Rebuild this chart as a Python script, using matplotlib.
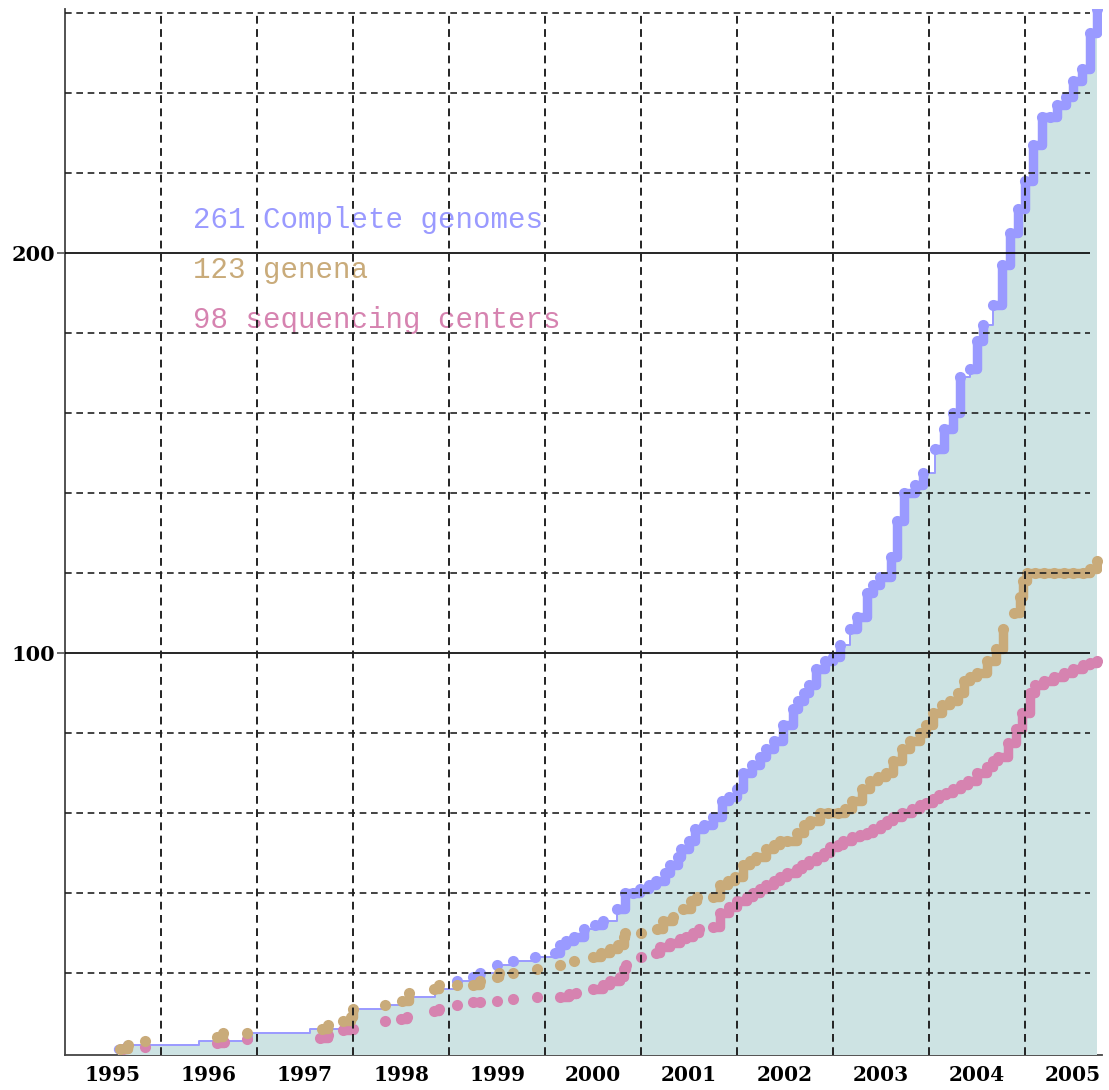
import numpy as np
import matplotlib.pyplot as plt

# Cumulative counts (x = fractional year)
genome_year = [1995.55, 1995.65, 1996.4, 1996.95, 1997.55, 1997.97, 1998.3, 1998.55, 1998.85,
               1999.08, 1999.25, 1999.32, 1999.5, 1999.67, 1999.9, 2000.1, 2000.16, 2000.22,
               2000.3, 2000.4, 2000.52, 2000.6, 2000.75, 2000.83, 2000.92, 2000.99, 2001.08,
               2001.16, 2001.25, 2001.3, 2001.38, 2001.42, 2001.5, 2001.56, 2001.66, 2001.75,
               2001.84, 2001.92, 2002.0, 2002.06, 2002.15, 2002.24, 2002.3, 2002.38, 2002.48,
               2002.58, 2002.63, 2002.7, 2002.75, 2002.82, 2002.92, 2003.0, 2003.07, 2003.18,
               2003.25, 2003.35, 2003.42, 2003.49, 2003.6, 2003.67, 2003.74, 2003.85, 2003.94,
               2004.06, 2004.15, 2004.25, 2004.32, 2004.43, 2004.5, 2004.56, 2004.67, 2004.76,
               2004.84, 2004.92, 2005.0, 2005.08, 2005.18, 2005.26, 2005.33, 2005.42, 2005.5,
               2005.59, 2005.68, 2005.75]
genome_count = [1, 2, 3, 5, 6, 11, 12, 14, 16,
                18, 19, 20, 22, 23, 24, 25, 27, 28,
                29, 31, 32, 33, 36, 40, 40, 41, 42,
                43, 45, 47, 49, 51, 53, 56, 57, 59,
                63, 64, 66, 70, 72, 74, 76, 78, 82,
                86, 88, 90, 92, 96, 98, 99, 102, 106,
                109, 115, 117, 119, 124, 133, 140, 142, 145,
                151, 156, 160, 169, 171, 178, 182, 187, 197,
                205, 211, 218, 227, 234, 234, 237, 239, 243,
                246, 255, 261]

genus_year = [1995.57, 1995.66, 1995.83, 1996.58, 1996.65, 1996.9, 1997.68, 1997.74, 1997.9,
              1997.98, 1998.0, 1998.33, 1998.51, 1998.58, 1998.84, 1998.9, 1999.08, 1999.25,
              1999.32, 1999.5, 1999.52, 1999.67, 1999.92, 2000.16, 2000.3, 2000.5, 2000.58,
              2000.68, 2000.76, 2000.82, 2000.83, 2001.0, 2001.17, 2001.23, 2001.33, 2001.44,
              2001.52, 2001.58, 2001.75, 2001.82, 2001.9, 2001.98, 2002.06, 2002.13, 2002.2,
              2002.3, 2002.38, 2002.45, 2002.52, 2002.62, 2002.7, 2002.76, 2002.86, 2002.95,
              2003.05, 2003.12, 2003.2, 2003.3, 2003.38, 2003.47, 2003.55, 2003.62, 2003.72,
              2003.8, 2003.9, 2003.97, 2004.04, 2004.13, 2004.22, 2004.3, 2004.36, 2004.43,
              2004.5, 2004.6, 2004.7, 2004.77, 2004.88, 2004.95, 2004.98, 2005.02, 2005.1,
              2005.2, 2005.3, 2005.4, 2005.5, 2005.6, 2005.68, 2005.75]
genus_count = [1, 2, 3, 4, 5, 5, 6, 7, 8,
               9, 11, 12, 13, 15, 16, 17, 17, 17,
               18, 19, 20, 20, 21, 22, 23, 24, 25,
               26, 27, 29, 30, 30, 31, 33, 34, 36,
               38, 39, 39, 42, 43, 44, 47, 48, 49,
               51, 52, 53, 53, 55, 57, 58, 60, 60,
               60, 61, 63, 66, 68, 69, 70, 73, 76,
               78, 80, 82, 85, 87, 88, 90, 93, 94,
               95, 98, 101, 106, 110, 114, 118, 120, 120,
               120, 120, 120, 120, 120, 121, 123]

center_year = [1995.6, 1995.83, 1996.58, 1996.66, 1996.9, 1997.66, 1997.74, 1997.9, 1998.0,
               1998.33, 1998.5, 1998.56, 1998.84, 1998.9, 1999.08, 1999.25, 1999.32, 1999.5,
               1999.67, 1999.92, 2000.16, 2000.25, 2000.32, 2000.5, 2000.6, 2000.68, 2000.78,
               2000.82, 2000.84, 2001.0, 2001.15, 2001.2, 2001.3, 2001.4, 2001.47, 2001.54,
               2001.6, 2001.75, 2001.82, 2001.92, 2002.0, 2002.1, 2002.17, 2002.24, 2002.3,
               2002.38, 2002.45, 2002.52, 2002.62, 2002.68, 2002.75, 2002.83, 2002.9, 2002.97,
               2003.05, 2003.1, 2003.2, 2003.28, 2003.35, 2003.42, 2003.5, 2003.56, 2003.62,
               2003.72, 2003.82, 2003.9, 2003.97, 2004.04, 2004.1, 2004.18, 2004.25, 2004.33,
               2004.4, 2004.5, 2004.6, 2004.66, 2004.72, 2004.82, 2004.9, 2004.97, 2005.05,
               2005.1, 2005.2, 2005.3, 2005.4, 2005.5, 2005.6, 2005.68, 2005.75]
center_count = [1, 1.5, 2.5, 2.7, 3.5, 3.75, 4.5, 5.75, 6,
                8, 8.5, 9, 10.5, 11, 12, 12.75, 12.75, 13,
                13.5, 14, 14, 14.75, 15, 16, 17, 18, 19,
                21, 22, 24, 25, 26.5, 27.5, 28.5, 29, 30,
                31, 31.5, 35, 36.5, 38, 39, 40, 41, 42,
                43, 44, 45, 46, 47, 48, 49, 50, 51.5,
                52, 53, 54, 54.5, 55, 56, 57, 58, 59,
                60, 61, 62, 62.5, 63.5, 64.5, 65, 66, 67,
                68, 70, 71.5, 73, 74, 77.5, 81, 85, 90,
                92, 93, 94, 95, 96, 97, 97.5, 98]

labels = ["261 Complete genomes", "123 genena", "98 sequencing centers"]
years = list(range(1995, 2006))

c_blue = "#9a9aff"
c_tan = "#c9ab7a"
c_pink = "#d683b0"
c_fill = "#cde3e3"


def draw_series(ax, x, y, color, dots_from=0.0, gap=0.11, z=3):
    x = np.asarray(x)
    y = np.asarray(y)
    # thick stair line only where releases come close together
    breaks = np.where(np.diff(x) > gap)[0] + 1
    for sx, sy in zip(np.split(x, breaks), np.split(y, breaks)):
        if len(sx) > 1:
            ax.plot(sx, sy, drawstyle="steps-post", color=color, lw=6.8,
                    solid_capstyle="round", solid_joinstyle="round", zorder=z)
    m = x >= dots_from
    ax.plot(x[m], y[m], "o", color=color, ms=8, mew=0, zorder=z)


fig = plt.figure(figsize=(11.09, 10.90), dpi=100)
ax = fig.add_axes([65 / 1109, 35 / 1090, 1037 / 1109, 1046 / 1090])
ax.set_xlim(1995, 2005.8)
ax.set_ylim(-0.5, 261)

ax.fill_between(genome_year, genome_count, -0.5, step="post", color=c_fill, lw=0, zorder=1)
ax.plot(genome_year, genome_count, drawstyle="steps-post", color=c_blue, lw=1.4, zorder=2)

draw_series(ax, genome_year, genome_count, c_blue, dots_from=1998.95)
draw_series(ax, center_year, center_count, c_pink)
draw_series(ax, genus_year, genus_count, c_tan)

# grid on top of everything
dash = (0, (4, 2.8))
for v in range(20, 261, 20):
    if v % 100 == 0:
        ax.hlines(v, 1995, 2005.68, color="black", lw=1.2, zorder=5)
    else:
        ax.hlines(v, 1995, 2005.68, color="#222222", lw=1.2, linestyles=dash, zorder=5)
ax.vlines(years[1:], -0.5, 259.6, color="#222222", lw=1.4, linestyles=dash, zorder=5)

for i, (txt, col) in enumerate(zip(labels, [c_blue, c_tan, c_pink])):
    ax.text(1996.33, 208.25 - 12.5 * i, txt, color=col, fontsize=21,
            family="Liberation Mono", va="center", ha="left", zorder=4)

for s in ["top", "right"]:
    ax.spines[s].set_visible(False)
ax.spines["left"].set_color("#444444")
ax.spines["left"].set_linewidth(1.3)
ax.spines["bottom"].set_color("#444444")
ax.spines["bottom"].set_linewidth(1.3)
ax.spines["bottom"].set_zorder(0.5)

ax.set_yticks([100, 200])
ax.set_yticklabels(["100", "200"], family="DejaVu Serif", fontweight="bold", fontsize=15)
ax.tick_params(axis="y", length=6, width=1.1, color="#444444", pad=1)
ax.set_xticks([yr + 0.5 for yr in years])
ax.set_xticklabels([str(yr) for yr in years], family="DejaVu Serif", fontweight="bold", fontsize=14.5)
ax.tick_params(axis="x", length=0, pad=7)

fig.savefig("out.png", dpi=100)
